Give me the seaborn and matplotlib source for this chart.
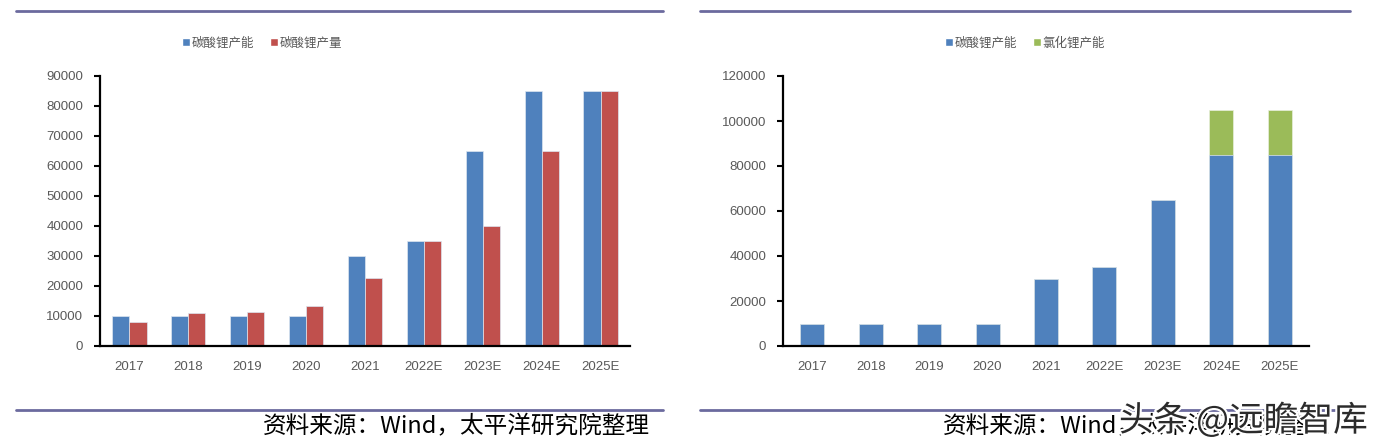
import matplotlib
matplotlib.use("Agg")
import matplotlib.pyplot as plt
import matplotlib.patheffects as pe
from matplotlib.patches import Patch
from matplotlib.lines import Line2D
import seaborn as sns
import pandas as pd

# ---------------- data ----------------
years = ["2017", "2018", "2019", "2020", "2021", "2022E", "2023E", "2024E", "2025E"]
carbonate_capacity = [10000, 10000, 10000, 10000, 30000, 35000, 65000, 85000, 85000]
carbonate_output = [8000, 11000, 11300, 13500, 22600, 35000, 40000, 65000, 85000]
chloride_capacity = [0, 0, 0, 0, 0, 0, 0, 20000, 20000]

left_yticks = [0, 10000, 20000, 30000, 40000, 50000, 60000, 70000, 80000, 90000]
right_yticks = [0, 20000, 40000, 60000, 80000, 100000, 120000]

name_cap = "碳酸锂产能"
name_out = "碳酸锂产量"
name_cl = "氯化锂产能"
source_text = "资料来源：Wind，太平洋研究院整理"
watermark = "头条 @远瞻智库"

BLUE = "#4F81BD"
RED = "#C0504D"
GREEN = "#9BBB59"
TICK_C = "#595959"
LINE_C = "#6B6A9E"

sns.set_theme(style="white")
plt.rcParams["font.family"] = ["Noto Sans CJK SC", "DejaVu Sans"]

W, H = 1378, 445
fig = plt.figure(figsize=(W / 100, H / 100), dpi=100)


def ax_rect(x0, x1, ytop, ybot):
    return [x0 / W, (H - ybot) / H, (x1 - x0) / W, (ybot - ytop) / H]


def style_axes(ax, ticks):
    ax.set_yticks(ticks)
    ax.set_yticklabels([str(t) for t in ticks], fontsize=9.5, color=TICK_C,
                       family=["Liberation Sans"])
    ax.set_xticks(range(len(years)))
    ax.set_xticklabels(years, fontsize=9.5, color=TICK_C, family=["Liberation Sans"])
    ax.set_ylim(0, ticks[-1])
    ax.set_xlim(-0.5, len(years) - 0.5)
    ax.set_xlabel("")
    ax.set_ylabel("")
    for s in ["top", "right"]:
        ax.spines[s].set_visible(False)
    for s in ["left", "bottom"]:
        ax.spines[s].set_color("black")
        ax.spines[s].set_linewidth(1.6)
    ax.tick_params(axis="y", direction="out", length=4, width=1.5, color="black", pad=8, left=True)
    ax.tick_params(axis="x", length=0, pad=11)
    ax.grid(False)
    ax.set_facecolor("white")


# ---------------- left chart ----------------
axL = fig.add_axes(ax_rect(100, 630, 76, 346))
dfL = pd.DataFrame({
    "year": years * 2,
    "value": carbonate_capacity + carbonate_output,
    "series": [name_cap] * len(years) + [name_out] * len(years),
})
sns.barplot(data=dfL, x="year", y="value", hue="series", order=years,
            hue_order=[name_cap, name_out], palette=[BLUE, RED], width=0.58,
            edgecolor="#dde6f0", linewidth=0.5, legend=False, ax=axL, errorbar=None)
style_axes(axL, left_yticks)
fig.legend(handles=[Patch(facecolor=BLUE), Patch(facecolor=RED)], labels=[name_cap, name_out],
           loc="center", bbox_to_anchor=(262 / W, 1 - 43 / H), ncol=2, frameon=False,
           fontsize=9, labelcolor=TICK_C, handlelength=0.6, handleheight=0.6,
           handletextpad=0.15, columnspacing=1.3)

# ---------------- right chart ----------------
axR = fig.add_axes(ax_rect(783, 1309, 76, 346))
total = [a + b for a, b in zip(carbonate_capacity, chloride_capacity)]
dfR = pd.DataFrame({"year": years, "total": total, "cap": carbonate_capacity})
sns.barplot(data=dfR, x="year", y="total", order=years, color=GREEN, saturation=1,
            width=0.41, edgecolor="#e8f0dc", linewidth=0.5, ax=axR, errorbar=None)
sns.barplot(data=dfR, x="year", y="cap", order=years, color=BLUE, saturation=1,
            width=0.41, edgecolor="#dde6f0", linewidth=0.5, ax=axR, errorbar=None)
style_axes(axR, right_yticks)
fig.legend(handles=[Patch(facecolor=BLUE), Patch(facecolor=GREEN)], labels=[name_cap, name_cl],
           loc="center", bbox_to_anchor=(1025 / W, 1 - 43 / H), ncol=2, frameon=False,
           fontsize=9, labelcolor=TICK_C, handlelength=0.6, handleheight=0.6,
           handletextpad=0.15, columnspacing=1.3)

# keep full colour saturation on the left chart
for p, c in zip(axL.patches, [BLUE] * len(years) + [RED] * len(years)):
    p.set_facecolor(c)

# ---------------- frame lines and source text ----------------
for (x0, x1) in [(16, 663), (700, 1350)]:
    for y in (11, 410):
        fig.add_artist(Line2D([x0 / W, x1 / W], [1 - y / H, 1 - y / H],
                              color=LINE_C, linewidth=2))

fig.text(650 / W, 1 - 427 / H, source_text, ha="right", va="center", fontsize=17,
         color="black", style="italic")
fig.text(1330 / W, 1 - 427 / H, source_text, ha="right", va="center", fontsize=17,
         color="black", style="italic")

fig.text(1368 / W, 1 - 421 / H, watermark, ha="right", va="center", fontsize=25,
         color="#2b2b2b",
         path_effects=[pe.withStroke(linewidth=3, foreground="white")])

fig.savefig("out.png", dpi=100, facecolor="white")
